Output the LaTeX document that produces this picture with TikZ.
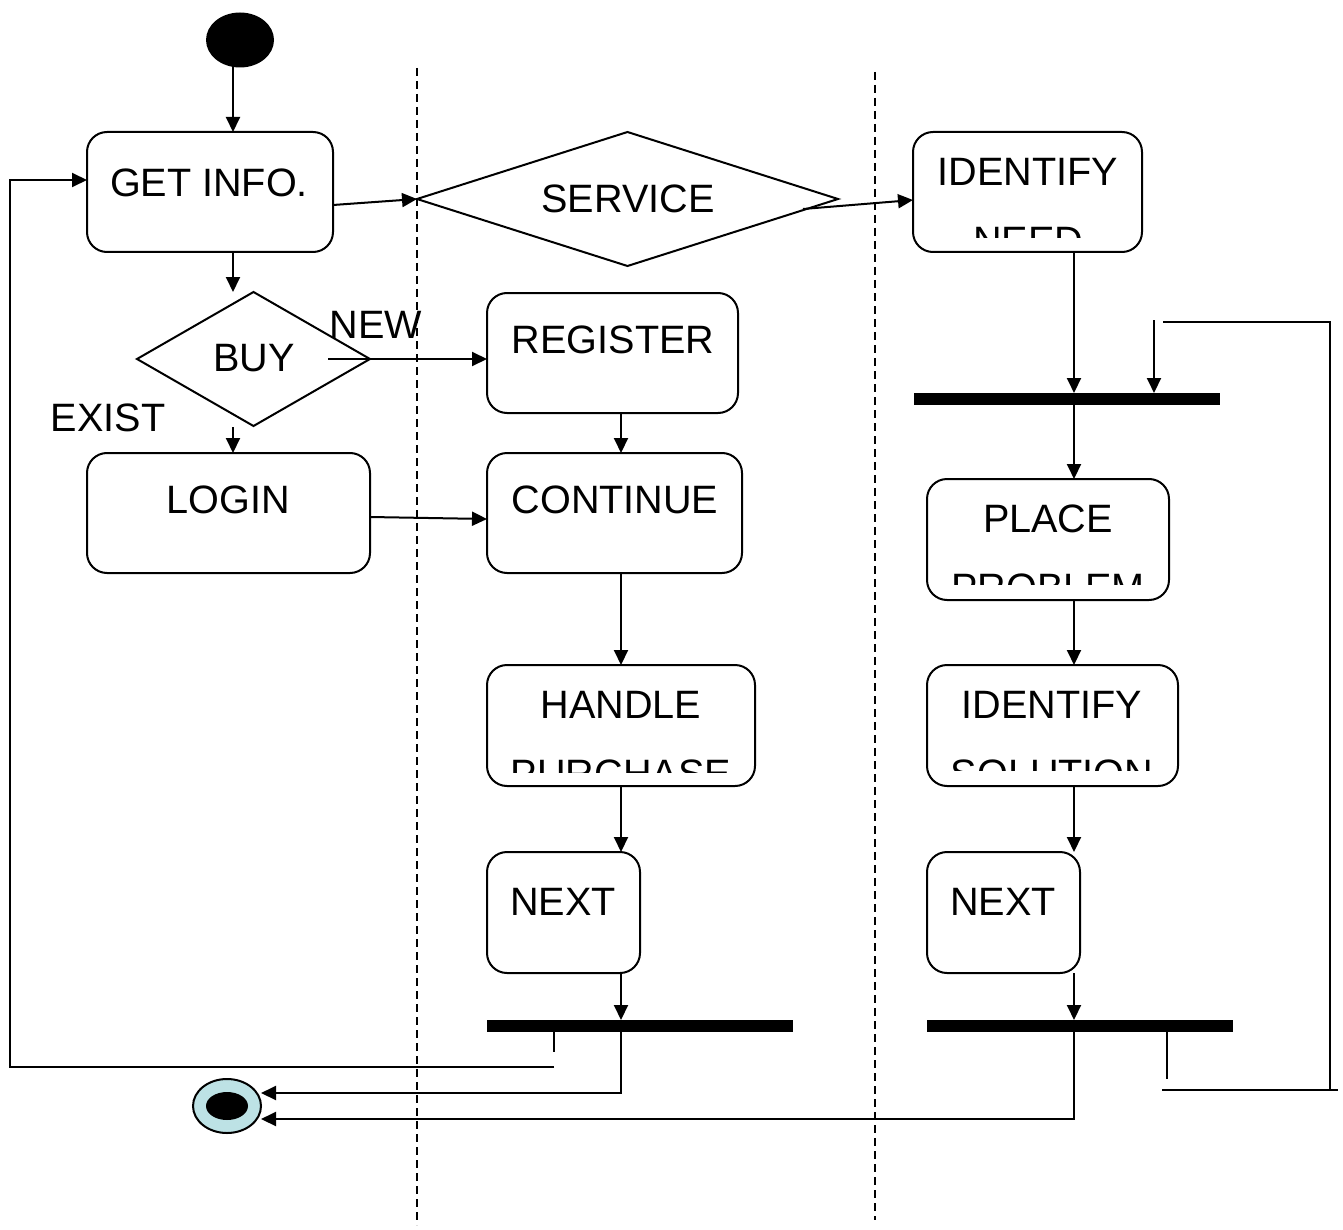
\documentclass[tikz,border=0pt]{standalone}
\usepackage{fontspec}
\setmainfont{Liberation Sans}
\usetikzlibrary{arrows.meta,shapes.geometric,calc}

\begin{document}
\begin{tikzpicture}[x=0.5pt,y=-0.5pt,
  line width=1pt,
  every node/.style={inner sep=0pt, outer sep=0pt},
  act/.style={draw, rectangle, rounded corners=10pt, line width=1pt},
  lbl/.style={font=\fontsize{19.8pt}{24pt}\selectfont, anchor=center},
  dec/.style={draw, diamond, line width=1pt},
  syncbar/.style={fill=black, draw=none, rectangle, minimum width=153pt, minimum height=6pt},
  flow/.style={-{Triangle[length=7.5pt,width=7pt]}},
  lane/.style={dash pattern=on 4pt off 2.5pt, line width=0.7pt},
]
\useasboundingbox (0,0) rectangle (1343,1230);

% swimlane separators
\draw[lane] (417,68) -- (417,1225);
\draw[lane] (875,72) -- (875,1220);

% columns used by the vertical flows
\coordinate (colA) at (233,0);
\coordinate (colB) at (621,0);
\coordinate (colR) at (1074,0);

% initial and final states
\node[ellipse, fill=black, minimum width=34pt, minimum height=27.5pt] (start) at (240,40) {};
\node[ellipse, draw, fill={rgb,255:red,189;green,226;blue,229}, minimum width=34pt, minimum height=27pt] (endnode) at (227,1106) {};
\node[ellipse, fill=black, minimum width=21pt, minimum height=14pt] (endcore) at (227,1106) {};

% activities
\node[act, minimum width=123pt,   minimum height=60pt]   (getinfo)  at (210,192) {};
\node[act, minimum width=141.5pt, minimum height=60pt]   (login)    at (228.5,513) {};
\node[act, minimum width=125.5pt, minimum height=60pt]   (register) at (612.5,353) {};
\node[act, minimum width=127.5pt, minimum height=60pt]   (continue) at (614.5,513) {};
\node[act, minimum width=134pt,   minimum height=60.5pt] (handle)   at (621,725.5) {};
\node[act, minimum width=76.5pt,  minimum height=60.5pt] (nextA)    at (563.5,912.5) {};
\node[act, minimum width=114.5pt, minimum height=60pt]   (idneed)   at (1027.5,192) {};
\node[act, minimum width=121pt,   minimum height=60.5pt] (place)    at (1048,539.5) {};
\node[act, minimum width=125.5pt, minimum height=60.5pt] (idsol)    at (1052.5,725.5) {};
\node[act, minimum width=76.5pt,  minimum height=60.5pt] (nextB)    at (1003.5,912.5) {};

% decisions
\node[dec, minimum width=210.5pt, minimum height=67pt] (service) at (627.5,199) {};
\node[dec, minimum width=116.5pt, minimum height=67pt] (buy)     at (253.5,359) {};

% synchronisation bars
\node[syncbar] (barA) at (640,1026) {};
\node[syncbar] (barB) at (1067,399) {};
\node[syncbar] (barC) at (1080,1026) {};

% texts
\node[lbl] (tGet)   at (209,183)  {GET INFO.};
\node[lbl] (tServ)  at (628,199)  {SERVICE};
\node[lbl] (tIdn)   at (1028,172) {IDENTIFY};
\node[lbl] (tBuy)   at (254,358)  {BUY};
\node[lbl] (tNew)   at (376,325)  {NEW};
\node[lbl] (tReg)   at (613,340)  {REGISTER};
\node[lbl] (tExist) at (108,418)  {EXIST};
\node[lbl] (tLogin) at (228,500)  {LOGIN};
\node[lbl] (tCont)  at (615,500)  {CONTINUE};
\node[lbl] (tPlace) at (1048,519) {PLACE};
\node[lbl] (tHand)  at (621,705)  {HANDLE};
\node[lbl] (tIds)   at (1052,705) {IDENTIFY};
\node[lbl] (tNextA) at (563,902)  {NEXT};
\node[lbl] (tNextB) at (1003,902) {NEXT};

% second lines, cut off by the box outline
\begin{scope}
  \clip (idneed.north west) rectangle ($(idneed.south east)+(0,-14)$);
  \node[lbl] (tNeed) at (1028,241) {NEED};
\end{scope}
\begin{scope}
  \clip (place.north west) rectangle ($(place.south east)+(0,-16)$);
  \node[lbl] (tProb) at (1048,588) {PROBLEM};
\end{scope}
\begin{scope}
  \clip (handle.north west) rectangle ($(handle.south east)+(0,-14)$);
  \node[lbl] (tPurch) at (621,774) {PURCHASE};
\end{scope}
\begin{scope}
  \clip (idsol.north west) rectangle ($(idsol.south east)+(0,-16)$);
  \node[lbl] (tSol) at (1052,774) {SOLUTION};
\end{scope}

% flows
\draw[flow] ($(start.south)+(-7,0)$) -- (getinfo.north -| colA);
\draw[flow] ($(getinfo.east)+(0,13)$) -- (service.west);
\draw[flow] ($(service.east)+(-35,10)$) -- ($(idneed.west)+(0,8)$);
\draw[flow] (getinfo.south -| colA) -- (buy.north -| colA);
\draw[flow] ($(buy.south -| colA)+(0,1)$) -- (login.north -| colA);
\draw[flow] ($(buy.east)+(-42,0)$) -- (register.west |- buy.east);
\draw[flow] ($(login.east)+(0,4)$) -- ($(continue.west)+(0,6)$);
\draw[flow] (register.south -| colB) -- (continue.north -| colB);
\draw[flow] (continue.south -| colB) -- (handle.north -| colB);
\draw[flow] (handle.south -| colB) -- (nextA.north -| colB);
\draw[flow] (nextA.south -| colB) -- (barA.north -| colB);

\draw[flow] (idneed.south -| colR) -- (barB.north -| colR);
\coordinate (loopIn) at (1154,320);
\draw[flow] (loopIn) -- (barB.north -| loopIn);
\draw[flow] (barB.south -| colR) -- (place.north -| colR);
\draw[flow] (place.south -| colR) -- (idsol.north -| colR);
\draw[flow] (idsol.south -| colR) -- (nextB.north -| colR);
\draw[flow] (nextB.south -| colR) -- (barC.north -| colR);

% joins into the final state
\draw[flow] (barA.south -| colB) |- ($(endnode.east)+(0,-13)$);
\draw[flow] (barC.south -| colR) |- ($(endnode.east)+(0,13)$);

% loop back to GET INFO.
\coordinate (stubA) at (554,1052);
\draw (barA.south -| stubA) -- (stubA);
\coordinate (backA) at (554,1067);
\draw[flow] (backA) -- (10,1067) -- (10,180) -- ($(getinfo.west)+(0,-12)$);

% loop back to the upper bar
\coordinate (stubC) at (1167,1079);
\draw (barC.south -| stubC) -- (stubC);
\coordinate (backC) at (1162,1090);
\draw (backC) -- (1338,1090);
\draw (1330,1090) -- (1330,322) -- (1163,322);
\end{tikzpicture}
\end{document}
